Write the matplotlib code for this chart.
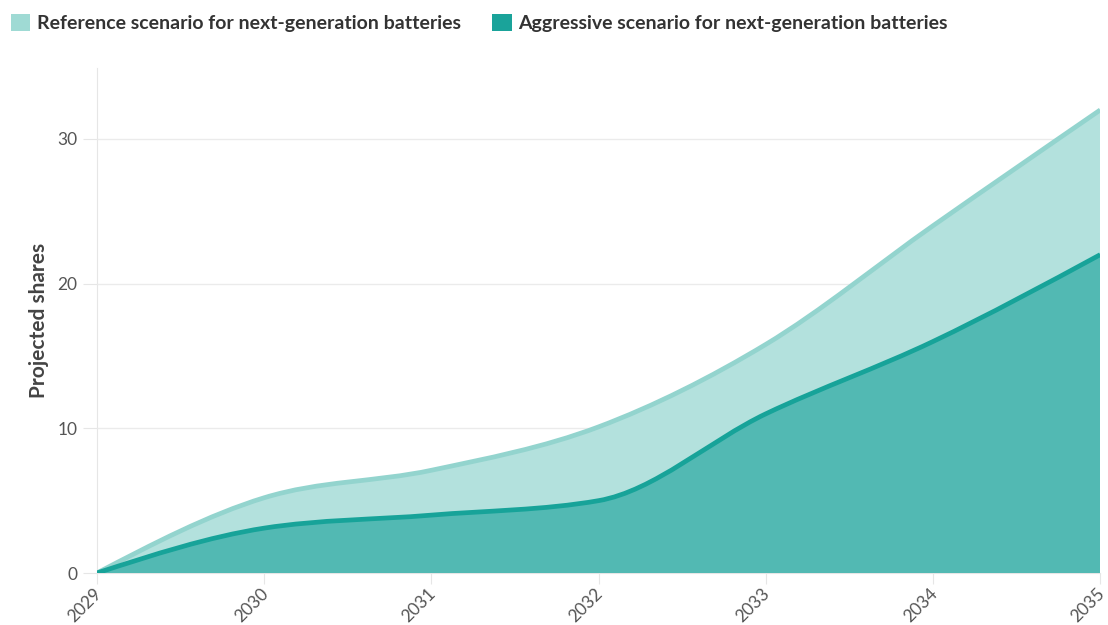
import numpy as np
import matplotlib
matplotlib.use("Agg")
import matplotlib.pyplot as plt
import matplotlib.transforms as mtransforms
from matplotlib.path import Path
from matplotlib.patches import PathPatch, Patch

years = [2029, 2030, 2031, 2032, 2033, 2034, 2035]
reference = [0, 5.2, 7.1, 10.1, 15.8, 24, 32]
aggressive = [0, 3.1, 4.0, 5.0, 11.0, 16, 22]
series_names = ["Reference scenario for next-generation batteries",
                "Aggressive scenario for next-generation batteries"]
y_ticks = [0, 10, 20, 30]

plt.rcParams["font.family"] = ["Lato", "DejaVu Sans"]


def monotone_tangents(x, y):
    x = np.asarray(x, float)
    y = np.asarray(y, float)
    n = len(x)
    t = np.zeros(n)
    for i in range(1, n - 1):
        h0, h1 = x[i] - x[i - 1], x[i + 1] - x[i]
        s0, s1 = (y[i] - y[i - 1]) / h0, (y[i + 1] - y[i]) / h1
        p = (s0 * h1 + s1 * h0) / (h0 + h1)
        sg = (1 if s0 >= 0 else -1) + (1 if s1 >= 0 else -1)
        t[i] = sg * min(abs(s0), abs(s1), 0.5 * abs(p))
    h = x[1] - x[0]
    t[0] = (3 * (y[1] - y[0]) / h - t[1]) / 2
    h = x[-1] - x[-2]
    t[-1] = (3 * (y[-1] - y[-2]) / h - t[-2]) / 2
    return t


def curve_segments(x, y):
    t = monotone_tangents(x, y)
    verts, codes = [(x[0], y[0])], [Path.MOVETO]
    for i in range(len(x) - 1):
        dx = (x[i + 1] - x[i]) / 3
        verts += [(x[i] + dx, y[i] + dx * t[i]),
                  (x[i + 1] - dx, y[i + 1] - dx * t[i + 1]),
                  (x[i + 1], y[i + 1])]
        codes += [Path.CURVE4] * 3
    return verts, codes


def area_path(x, y):
    verts, codes = curve_segments(x, y)
    verts += [(x[-1], 0), (x[0], 0), (x[0], y[0])]
    codes += [Path.LINETO, Path.LINETO, Path.CLOSEPOLY]
    return Path(verts, codes)


def line_path(x, y):
    verts, codes = curve_segments(x, y)
    return Path(verts, codes)


fig = plt.figure(figsize=(11.08, 6.25), dpi=100)
ax = fig.add_axes([0.0875, 0.0832, 0.9055, 0.808])

fill_colors = ["#b3e1dd", "#52b9b3"]
line_colors = ["#93d4ce", "#17a399"]
swatch_colors = ["#9fdad4", "#1aa39a"]

for vals, fc, lc, z in [(reference, fill_colors[0], line_colors[0], 2),
                        (aggressive, fill_colors[1], line_colors[1], 3)]:
    ax.add_patch(PathPatch(area_path(years, vals), facecolor=fc,
                           edgecolor="none", zorder=z))
    ax.add_patch(PathPatch(line_path(years, vals), facecolor="none",
                           edgecolor=lc, linewidth=3.4,
                           capstyle="butt", joinstyle="round", zorder=z + 0.5))

ax.set_xlim(2029, 2035)
ax.set_ylim(0, 34.9)
ax.set_yticks(y_ticks)
ax.set_xticks(years)
ax.set_xticklabels([str(y) for y in years], rotation=45, ha="right",
                   va="top", rotation_mode="anchor")

ax.grid(axis="y", color="#ebebeb", linewidth=1.0, zorder=0)
ax.grid(axis="x", visible=False)
for s in ["top", "right"]:
    ax.spines[s].set_visible(False)
ax.spines["left"].set_color("#e6e6e6")
ax.spines["bottom"].set_color("#e6e6e6")
ax.spines["left"].set_zorder(1)
ax.tick_params(axis="y", length=10, color="#e6e6e6", labelsize=12.5,
               labelcolor="#555555", pad=4)
ax.tick_params(axis="x", length=8, color="#e6e6e6", labelsize=12.5,
               labelcolor="#555555", pad=1)
offset = mtransforms.ScaledTranslation(-4 / 100, 0, fig.dpi_scale_trans)
for lab in ax.get_xticklabels():
    lab.set_transform(lab.get_transform() + offset)

ax.set_ylabel("Projected shares", fontsize=15, fontweight="bold",
              color="#444444", labelpad=6)

handles = [Patch(facecolor=c, edgecolor="none") for c in swatch_colors]
leg = fig.legend(handles, series_names, loc="upper left",
                 bbox_to_anchor=(-0.006, 1.006), ncol=2, frameon=False,
                 prop={"size": 14, "weight": "bold"}, handlelength=1.0,
                 handleheight=1.0, handletextpad=0.35, columnspacing=1.6,
                 borderaxespad=0.5)
for t in leg.get_texts():
    t.set_color("#333333")

fig.savefig("out.png", dpi=100)
